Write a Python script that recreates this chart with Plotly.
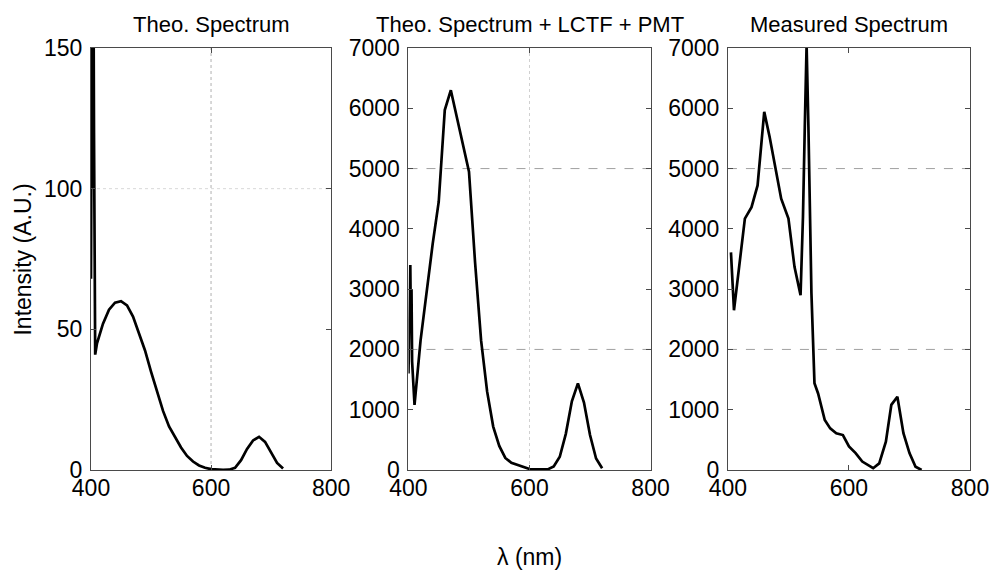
import plotly.graph_objects as go

# ---------------- data ----------------
theo_wl = [400, 401, 402, 403, 404, 405, 407, 410, 420, 430, 440, 450, 460, 470, 480, 490,
           500, 510, 520, 530, 540, 550, 560, 570, 580, 590, 600, 610, 620, 630, 640, 650,
           660, 670, 680, 690, 700, 710, 720]
theo_int = [68, 125, 200, 100, 180, 120, 41, 45, 52, 57, 59.5, 60, 58.5, 54.5, 48.5, 42.5,
            35, 28, 21, 15.5, 11.5, 8, 5, 3, 1.6, 0.8, 0.3, 0.1, 0.05, 0.1, 0.8, 3.5,
            7.5, 10.5, 11.8, 10, 6, 2.5, 0.5]

lctf_wl = [400, 402, 403, 404, 405, 406, 410, 420, 430, 440, 450, 460, 470, 480, 490, 500,
           510, 520, 530, 540, 550, 560, 570, 580, 590, 600, 610, 620, 630, 640, 650, 660,
           670, 680, 690, 700, 710, 720]
lctf_int = [1600, 2600, 3400, 2400, 3000, 1800, 1080, 2150, 3000, 3750, 4450, 5970, 6300,
            5850, 5400, 4950, 3450, 2150, 1300, 720, 400, 200, 120, 85, 45, 17, 10, 8, 10,
            60, 220, 600, 1140, 1436, 1120, 580, 190, 28]

meas_wl = [405, 410, 428, 439, 449, 460, 469, 488, 500, 510, 520, 524, 527, 530, 533, 538,
           543, 549, 560, 569, 579, 590, 600, 611, 622, 640, 650, 661, 670, 680, 690, 700,
           710, 720]
meas_int = [3610, 2650, 4170, 4360, 4720, 5940, 5520, 4500, 4170, 3370, 2900, 4200, 5690,
            7050, 5690, 2930, 1440, 1270, 830, 690, 610, 580, 390, 280, 140, 30, 110, 470,
            1080, 1215, 610, 280, 55, 0]

titles = ["Theo. Spectrum", "Theo. Spectrum + LCTF + PMT", "Measured Spectrum"]
x_ticks = [400, 600, 800]
y_ticks_theo = [0, 50, 100, 150]
y_ticks_meas = [0, 1000, 2000, 3000, 4000, 5000, 6000, 7000]
x_label = "λ (nm)"
y_label = "Intensity (A.U.)"

# ---------------- layout geometry ----------------
W, H = 1001, 572
ML, MR, MT, MB = 91, 24, 48, 102
PW = W - ML - MR
PH = H - MT - MB

def px_x(p):
    return (p - ML) / PW

def px_y(p):
    return (H - MB - p) / PH

domains = [[px_x(91), px_x(333)], [px_x(411), px_x(655)], [px_x(733), px_x(977)]]

FONT = "Liberation Sans, Arial, Helvetica, sans-serif"
TICKFONT = dict(family=FONT, size=23, color="black")
LINE_COL = "#4a4a4a"

fig = go.Figure()
series = [(theo_wl, theo_int), (lctf_wl, lctf_int), (meas_wl, meas_int)]
for i, (xs, ys) in enumerate(series):
    sfx = "" if i == 0 else str(i + 1)
    fig.add_trace(go.Scatter(x=xs, y=ys, mode="lines",
                             line=dict(color="black", width=2.7),
                             xaxis="x" + sfx, yaxis="y" + sfx,
                             showlegend=False, hoverinfo="skip"))

axis_common = dict(showline=True, linecolor=LINE_COL, linewidth=1, mirror="ticks",
                   ticks="inside", ticklen=5, tickcolor=LINE_COL, tickwidth=1,
                   showgrid=False, zeroline=False, tickfont=TICKFONT)

layout = dict(width=W, height=H, margin=dict(l=ML, r=MR, t=MT, b=MB),
              paper_bgcolor="white", plot_bgcolor="white", showlegend=False)

for i in range(3):
    sfx = "" if i == 0 else str(i + 1)
    xa = dict(axis_common, domain=domains[i], range=[400, 800], tickvals=x_ticks,
              anchor="y" + sfx, ticklabelstandoff=-3)
    if i == 0:
        ya = dict(axis_common, domain=[0, 1], range=[0, 150], tickvals=y_ticks_theo,
                  anchor="x", ticklabelstandoff=3)
    else:
        ya = dict(axis_common, domain=[0, 1], range=[0, 7000], tickvals=y_ticks_meas,
                  anchor="x" + sfx, ticklabelstandoff=3)
    layout["xaxis" + sfx] = xa
    layout["yaxis" + sfx] = ya

fig.update_layout(**layout)

# partially visible grid lines (as in the reference)
fig.add_shape(type="line", xref="x", yref="y domain", x0=600, x1=600, y0=0, y1=1,
              line=dict(color="#b0b0b0", width=1, dash="dot"), layer="below")
fig.add_shape(type="line", xref="x domain", yref="y", x0=0, x1=1, y0=100, y1=100,
              line=dict(color="#d8d8d8", width=1, dash="dot"), layer="below")
fig.add_shape(type="line", xref="x2", yref="y2 domain", x0=600, x1=600, y0=0, y1=1,
              line=dict(color="#d0d0d0", width=1, dash="dot"), layer="below")
for ax in ["2", "3"]:
    for gv in [2000, 5000]:
        fig.add_shape(type="line", xref="x" + ax + " domain", yref="y" + ax,
                      x0=0, x1=1, y0=gv, y1=gv,
                      line=dict(color="#a0a0a0", width=1, dash="dash"), layer="below")

# titles and axis labels
centers = [212, 533, 855]
for c, t in zip(centers, titles):
    fig.add_annotation(text=t, xref="paper", yref="paper", x=px_x(c), y=px_y(24),
                       xanchor="center", yanchor="middle", showarrow=False,
                       font=dict(family=FONT, size=22, color="black"))
fig.add_annotation(text=x_label, xref="paper", yref="paper", x=px_x(533), y=px_y(557),
                   xanchor="center", yanchor="middle", showarrow=False,
                   font=dict(family=FONT, size=23, color="black"))
fig.add_annotation(text=y_label, xref="paper", yref="paper", x=px_x(22), y=px_y(260),
                   xanchor="center", yanchor="middle", showarrow=False, textangle=-90,
                   font=dict(family=FONT, size=23, color="black"))

fig.write_html("out.html", config={"displayModeBar": False, "staticPlot": True},
               post_script="document.body.style.margin='0px';")
